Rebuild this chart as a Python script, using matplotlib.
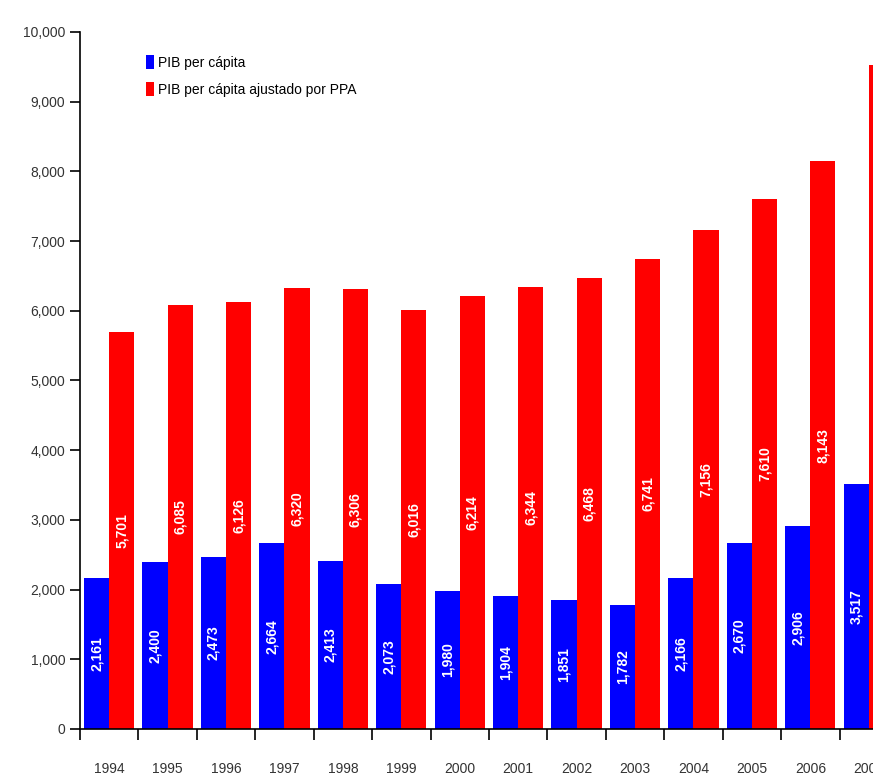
import matplotlib
matplotlib.use("Agg")
from matplotlib import pyplot as plt
from matplotlib.ticker import FuncFormatter
import numpy as np

plt.rcParams['font.family'] = ['Liberation Sans Narrow', 'Liberation Sans', 'DejaVu Sans']

years = ['1994', '1995', '1996', '1997', '1998', '1999', '2000',
         '2001', '2002', '2003', '2004', '2005', '2006', '2007']
pib = [2161, 2400, 2473, 2664, 2413, 2073, 1980,
       1904, 1851, 1782, 2166, 2670, 2906, 3517]
pib_ppa = [5701, 6085, 6126, 6320, 6306, 6016, 6214,
           6344, 6468, 6741, 7156, 7610, 8143, 9530]

fig = plt.figure(figsize=(8.73, 7.78), dpi=100)
# axes run off the right edge, like the cropped original
ax = fig.add_axes([0.0916, 0.063, 0.937, 0.896])

x = np.arange(len(years))
w = 0.43
b1 = ax.bar(x - w / 2, pib, w, color='#0000FF', label='PIB per cápita')
b2 = ax.bar(x + w / 2, pib_ppa, w, color='#FF0000', label='PIB per cápita ajustado por PPA')

fmt = lambda v: f'{v:,.0f}'
for bars in (b1, b2):
    ax.bar_label(bars, labels=[fmt(v) for v in bars.datavalues], label_type='center',
                 rotation=90, color='white', fontweight='bold', fontsize=10)

ax.set_xlim(-0.5, len(years) - 0.5)
ax.set_ylim(0, 10000)
ax.set_yticks(range(0, 10001, 1000))
ax.yaxis.set_major_formatter(FuncFormatter(lambda v, p: f'{v:,.0f}'))

# tick marks between groups, labels at group centres
ax.set_xticks(np.arange(len(years) + 1) - 0.5)
ax.set_xticklabels([])
ax.set_xticks(x, minor=True)
ax.set_xticklabels(years, minor=True)
ax.tick_params(axis='x', which='major', length=8, direction='out', width=1.2)
ax.tick_params(axis='x', which='minor', length=0, pad=24, labelsize=10, labelcolor='#333333')
ax.tick_params(axis='y', length=7, direction='out', width=1.2, labelsize=10, labelcolor='#333333')

for s in ('top', 'right'):
    ax.spines[s].set_visible(False)
ax.spines['left'].set_linewidth(1.2)
ax.spines['bottom'].set_linewidth(1.2)

ax.legend(loc='upper left', bbox_to_anchor=(0.065, 0.985), frameon=False, fontsize=10,
          handlelength=0.6, handleheight=1.2, handletextpad=0.3, labelspacing=0.9)

fig.savefig('out.png', dpi=100)
